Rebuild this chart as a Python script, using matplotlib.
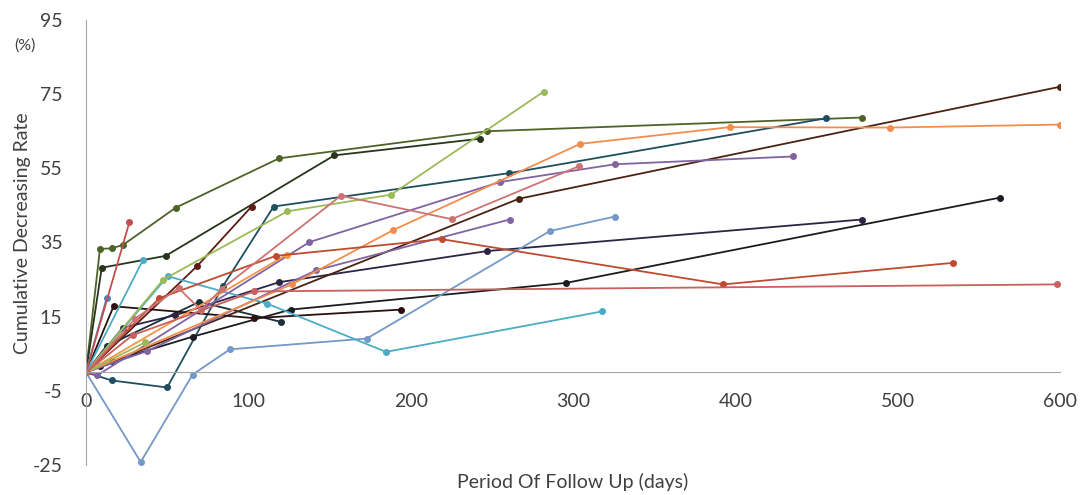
import matplotlib
matplotlib.use("Agg")
import matplotlib.pyplot as plt

plt.rcParams['font.family'] = ['Lato', 'DejaVu Sans']
plt.rcParams['axes.unicode_minus'] = False

# follow-up days / cumulative decreasing rate (%) for each case
olive_x = [0, 8.6, 15.8, 23, 55.3, 119, 247, 478]
olive_y = [0, 33.3, 33.4, 34.4, 44.4, 57.7, 65, 68.7]
blackgreen_x = [0, 9.7, 49.1, 153, 243]
blackgreen_y = [0, 28.2, 31.4, 58.5, 63]
redshort_x = [0, 26.7]
redshort_y = [0, 40.4]
blueshort_x = [0, 12.7]
blueshort_y = [0, 20]
cyanshort_x = [0, 35]
cyanshort_y = [0, 30.2]
greenshort_x = [0, 36.5]
greenshort_y = [0, 8.1]
orangeshort_x = [0, 123.6]
orangeshort_y = [0, 31.7]
maroon_x = [0, 68.6, 102]
maroon_y = [0, 28.7, 44.7]
teal1_x = [0, 15.8, 50, 84.6, 115.6, 260.6, 456]
teal1_y = [0, -2.2, -4.1, 23.4, 44.7, 53.7, 68.5]
teal2_x = [0, 12.7, 69.8, 120]
teal2_y = [0, 7.1, 19, 13.6]
cyan_x = [0, 50.3, 111.7, 184.8, 317.7]
cyan_y = [0, 25.9, 18.5, 5.5, 16.4]
green_x = [0, 47.6, 124, 188, 282]
green_y = [0, 25, 43.4, 47.9, 75.7]
pink_x = [0, 30.4, 57, 70.8, 83.6, 157, 225.3, 303.8]
pink_y = [0, 14.5, 22.7, 16.8, 22.5, 47.6, 41.3, 55.6]
rose_x = [0, 28.7, 103.5, 598]
rose_y = [0, 10, 21.8, 23.7]
brick_x = [0, 45.2, 117, 219, 392.5, 533.8]
brick_y = [0, 20, 31.4, 35.9, 23.7, 29.5]
orange_x = [0, 126.7, 189, 304.4, 396.6, 495.4, 600]
orange_y = [0, 23.7, 38.3, 61.6, 66.1, 66, 66.8]
purple1_x = [0, 7, 137.6, 255, 325.8, 435.6]
purple1_y = [0, -0.8, 35.1, 51.3, 56.1, 58.2]
purple2_x = [0, 37.6, 141.7, 261]
purple2_y = [0, 5.7, 27.5, 41.2]
lightblue_x = [0, 33.7, 65.7, 88.7, 173, 285.8, 325.8]
lightblue_y = [0, -24.2, -0.6, 6.2, 9.1, 38.1, 42]
brownlong_x = [0, 266.7, 600]
brownlong_y = [0, 46.8, 77]
brownshort_x = [0, 17, 103.7, 194]
brownshort_y = [0, 17.8, 14.6, 16.9]
black_x = [0, 8.8, 16, 65.7, 126, 295.7, 563]
black_y = [0, 1.7, 3.0, 9.6, 16.9, 24.1, 47.1]
navy_x = [0, 22.6, 55, 119, 247.3, 478]
navy_y = [0, 12, 15.4, 24.3, 32.7, 41.2]

series = [
    (olive_x, olive_y, '#4F6228'),
    (blackgreen_x, blackgreen_y, '#27351A'),
    (maroon_x, maroon_y, '#5C1B15'),
    (teal1_x, teal1_y, '#1F4E5F'),
    (teal2_x, teal2_y, '#17303A'),
    (navy_x, navy_y, '#2E2444'),
    (black_x, black_y, '#1B1B22'),
    (brownlong_x, brownlong_y, '#4A2412'),
    (brownshort_x, brownshort_y, '#2B1010'),
    (lightblue_x, lightblue_y, '#7399C6'),
    (cyan_x, cyan_y, '#4BACC6'),
    (green_x, green_y, '#9BBB59'),
    (purple1_x, purple1_y, '#8064A2'),
    (purple2_x, purple2_y, '#8064A2'),
    (orange_x, orange_y, '#F38D4E'),
    (orangeshort_x, orangeshort_y, '#F79646'),
    (brick_x, brick_y, '#BE4B30'),
    (pink_x, pink_y, '#CD7371'),
    (greenshort_x, greenshort_y, '#9BBB59'),
    (cyanshort_x, cyanshort_y, '#4BACC6'),
    (blueshort_x, blueshort_y, '#4F81BD'),
    (redshort_x, redshort_y, '#C0504D'),
    (rose_x, rose_y, '#C8605E'),
]

fig = plt.figure(figsize=(10.83, 4.95), dpi=100)
ax = fig.add_axes([86 / 1083, 30 / 495, 974 / 1083, 445 / 495])

for xs, ys, c in series:
    ax.plot(xs, ys, color=c, lw=1.3, marker='o', ms=4, mec=c, mfc=c)

ax.set_xlim(0, 600)
ax.set_ylim(-25, 95)
ax.set_xticks(range(0, 601, 100))
ax.set_yticks(range(-25, 96, 20))

for s in ['top', 'right']:
    ax.spines[s].set_visible(False)
ax.spines['bottom'].set_position(('data', 0))
ax.spines['bottom'].set_color('#A6A6A6')
ax.spines['left'].set_color('#A6A6A6')
ax.tick_params(axis='x', length=0, pad=15, labelsize=14, labelcolor='#404040')
ax.tick_params(axis='y', length=0, pad=17, labelsize=14, labelcolor='#404040')

ax.set_xlabel('Period Of Follow Up (days)', fontsize=14, color='#404040')
ax.xaxis.set_label_coords(0.5, -0.038)
ax.xaxis.label.set_va('center')
ax.set_ylabel('Cumulative Decreasing Rate', fontsize=14, color='#404040')
ax.yaxis.set_label_coords(-0.0657, 0.52)
ax.yaxis.label.set_va('center')

fig.text(25 / 1083, 1 - 46 / 495, '(%)', fontsize=11.5, color='#404040',
         ha='center', va='center')

fig.savefig('out.png', dpi=100)
